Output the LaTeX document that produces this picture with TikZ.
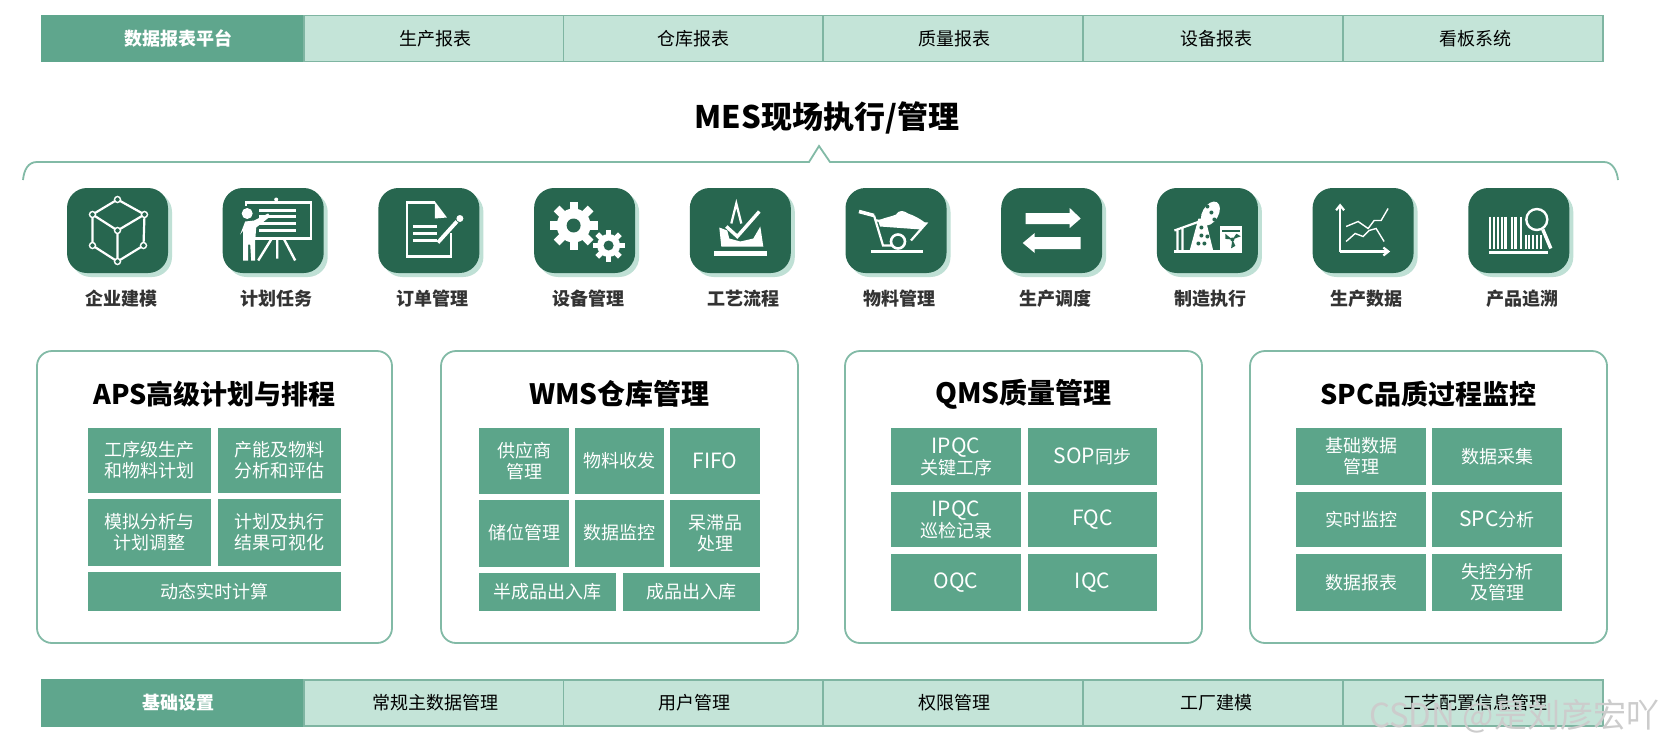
\documentclass[tikz,border=0pt]{standalone}
\usepackage{fontspec}
\setmainfont{Noto Sans CJK SC}
\usetikzlibrary{positioning,shadows,arrows.meta}
\definecolor{barhead}{HTML}{5FA68D}
\definecolor{barcell}{HTML}{C4E4D8}
\definecolor{barline}{HTML}{7FB5A2}
\definecolor{tilegreen}{HTML}{27664F}
\definecolor{tileshade}{HTML}{BFE0D5}
\definecolor{cellgreen}{HTML}{5CA58A}
\definecolor{panelline}{HTML}{82BAA6}
\newcommand\lat[1]{{\fontsize{21pt}{21pt}\selectfont #1}}
\tikzset{
  x=1pt,y=-1pt,
  headbox/.style={fill=barhead,draw=barhead,line width=1.5pt,text=white,font=\fontsize{18pt}{21pt}\selectfont\bfseries,minimum height=46pt,inner sep=0pt},
  barbox/.style={fill=barcell,draw=barline,line width=1.5pt,text=black,font=\fontsize{18pt}{21pt}\selectfont,minimum height=46pt,inner sep=0pt},
  tilebox/.style={fill=tilegreen,rounded corners=20pt,minimum width=101pt,minimum height=85pt,inner sep=0pt,
    drop shadow={shadow xshift=4pt,shadow yshift=-4pt,fill=tileshade,opacity=1}},
  tilelabel/.style={text=black!80,font=\fontsize{18pt}{21pt}\selectfont\bfseries,inner sep=0pt},
  panelbox/.style={draw=panelline,line width=1.8pt,rounded corners=15pt,fill=white,inner sep=0pt,minimum height=292pt,minimum width=356pt},
  paneltitle/.style={font=\fontsize{28pt}{30pt}\selectfont\bfseries,inner sep=0pt},
  cellbox/.style={fill=cellgreen,text=white,align=center,inner sep=0pt,font=\fontsize{18pt}{21pt}\selectfont},
  iconline/.style={draw=white,line width=2.2pt},
  iconthin/.style={draw=white,line width=1.4pt},
}
\begin{document}
\begin{tikzpicture}
  \useasboundingbox (0,0) rectangle (1661,745);
  \fill[white] (0,0) rectangle (1661,745);

  % report bar
  \node[headbox,minimum width=262pt] (tophead) at (173,38.5) {\hspace*{11pt}数据报表平台};
  \foreach \x/\dx/\name/\txt in {434/2/rprod/生产报表,693.5/0/rware/仓库报表,953/3/rqual/质量报表,1213/6/requip/设备报表,1473/4/rboard/看板系统}
    \node[barbox,minimum width=260pt] (\name) at (\x,38.5) {\hspace*{\dx pt}\txt};

  % title and brace
  \node[font=\fontsize{31pt}{33pt}\selectfont\bfseries,inner sep=0pt] (mestitle) at (827,118) {MES现场执行/管理};
  \draw[panelline,line width=1.8pt] (23,180) .. controls (24,170) and (28,162) .. (37,162)
    -- (809,162) -- (819,146) -- (830,162) -- (1604,162) .. controls (1612,162) and (1617,170) .. (1618,180);

  % icon tiles
  \foreach \i/\name/\txt in {0/model/企业建模,1/plan/计划任务,2/order/订单管理,3/equip/设备管理,4/flow/工艺流程,
      5/material/物料管理,6/dispatch/生产调度,7/exec/制造执行,8/pdata/生产数据,9/trace/产品追溯} {
    \node[tilebox] (\name) at ({117.5+155.7*\i},230.5) {};
    \node[tilelabel] (\name label) at ({121+155.7*\i},299) {\txt};
  }

  % cube
  \begin{scope}[shift={(model.center)}]
    \draw[iconline] (0,-31) -- (27,-16) -- (26,15) -- (0,31) -- (-25,15) -- (-25,-16) -- cycle;
    \draw[iconline] (-25,-16) -- (0,0) -- (27,-16) (0,0) -- (0,31);
    \foreach \p in {(0,-31),(27,-16),(26,15),(0,31),(-25,15),(-25,-16),(0,0)}
      \draw[iconthin,fill=tilegreen] \p circle (3);
  \end{scope}
  % presenter
  \begin{scope}[shift={(plan.center)}]
    \draw[iconline] (-27,-28) rectangle (38,8);
    \fill[white] (3,-31) circle (2);
    \foreach \y in {-20,-14,-7,0}
      \draw[iconline] (-14,\y) -- (23,\y);
    \fill[tilegreen] (-36,-25) rectangle (-18,32);
    \fill[white] (-26,-17) circle (5.5);
    \fill[white] (-33,4) -- (-28,-9) -- (-19,-10) -- (-5,-17) -- (-3,-14) -- (-17,-3) -- (-18,10) -- (-18,30) -- (-22,30) -- (-23,14) -- (-25,14) -- (-25,30) -- (-30,30) -- (-30,0) -- cycle;
    \draw[iconline,line width=2.4pt] (-2,9) -- (-15,30) (4,9) -- (4,28) (11,9) -- (22,30);
  \end{scope}
  % document and pen
  \begin{scope}[shift={(order.center)}]
    \draw[iconline,line width=2.6pt] (6,-28) -- (-22,-28) -- (-22,26) -- (22,26) -- (22,2);
    \fill[white] (6,-29) -- (18,-13) -- (6,-12) -- cycle;
    \foreach \y in {-4,3,10}
      \draw[iconline,line width=3pt] (-16,\y) -- (8,\y);
    \draw[white,line width=3.8pt] (9,12) -- (28,-9);
    \fill[white] (31,-12) circle (3.5);
  \end{scope}
  % gears
  \begin{scope}[shift={(equip.center)}]
    \foreach \cx/\cy/\ro/\ri/\rh in {-11/-5/24/17/7,24/15/16/11.5/5} {
      \fill[white] (\cx,\cy) circle (\ri);
      \foreach \a in {0,45,...,315}
        \fill[white,shift={(\cx,\cy)},rotate=\a] ({\ri-1},{-.17*\ro}) rectangle (\ro,{.17*\ro});
      \fill[tilegreen] (\cx,\cy) circle (\rh);
    }
  \end{scope}
  % plane with check mark
  \begin{scope}[shift={(flow.center)}]
    \fill[white] (-21,-3) -- (-13,0) -- (-11,8) -- (0,11) -- (13,8) -- (20,-4) -- (23,16) -- (-19,16) -- cycle;
    \fill[white] (-26,20) rectangle (27,25);
    \draw[iconline] (-9,-7) -- (-4,-27) -- (1,-7);
    \draw[white,line width=3.4pt] (-14,-4) -- (-3,6) -- (19,-19);
  \end{scope}
  % wheelbarrow
  \begin{scope}[shift={(material.center)}]
    \draw[white,line width=3.6pt] (-37,-19) -- (-22,-15);
    \draw[iconline] (-22,-15) -- (-13,15) -- (-4,15) (15,10) -- (30,-7) -- (-20,-10);
    \fill[white] (-18,-10) .. controls (-8,-14) and (-4,-14) .. (0,-16) .. controls (3,-21) and (8,-20) .. (12,-17) .. controls (18,-15) and (24,-12) .. (30,-7) -- (25,-1) -- (-16,-4) -- cycle;
    \draw[iconline,line width=2.6pt] (2,11) circle (7);
    \draw[iconline,line width=2.6pt] (-25,21) -- (27,21);
  \end{scope}
  % exchange arrows
  \begin{scope}[shift={(dispatch.center)}]
    \fill[white] (-26,-17.5) -- (18,-17.5) -- (18,-22.5) -- (29,-12) -- (18,-2.5) -- (18,-6.5) -- (-26,-6.5) -- cycle;
    \fill[white] (29,6.5) -- (-17,6.5) -- (-17,2.5) -- (-29,12.5) -- (-17,22.5) -- (-17,18.5) -- (29,18.5) -- cycle;
  \end{scope}
  % pump jack and barrel
  \begin{scope}[shift={(exec.center)}]
    \draw[iconline] (-33,21) -- (35,21);
    \fill[white] (-18,21) -- (-9,-12) -- (-2,-12) -- (6,21) -- cycle;
    \foreach \p in {(-6,-3),(-6,5),(-9,13),(-3,13),(0,6)}
      \fill[tilegreen] \p circle (2);
    \draw[iconline] (-33,0) -- (6,-14) (-30,0) -- (-30,21) (-25,-2) -- (-25,21);
    \fill[white,rotate around={-30:(3,-17)}] (3,-17) ellipse (8 and 13);
    \foreach \p in {(0,-24),(4,-18),(7,-11)}
      \fill[tilegreen] \p circle (2);
    \fill[white] (13,-5) rectangle (35,21);
    \fill[tilegreen] (15,-1) rectangle (33,1);
    \fill[tilegreen] (25,9) circle (2);
    \foreach \a in {90,210,330}
      \fill[tilegreen] (25,9) -- ++(\a-25:7) -- ++(\a+60:5) -- cycle;
  \end{scope}
  % chart
  \begin{scope}[shift={(pdata.center)}]
    \draw[iconline,-{Straight Barb[length=5pt,width=8pt]}] (-23,21) -- (-23,-27);
    \draw[iconline,-{Straight Barb[length=5pt,width=8pt]}] (-23,21) -- (27,21);
    \draw[iconthin] (-17,-4) -- (-5,-9) -- (5,-2) -- (11,-10) -- (18,-10) -- (25,-22);
    \draw[iconthin] (-17,11) -- (-8,3) -- (0,6) -- (6,0) -- (13,-2) -- (21,11);
  \end{scope}
  % barcode with lens
  \begin{scope}[shift={(trace.center)}]
    \foreach \x/\w in {-29/1.8,-25/1.8,-21/1.8,-17/1.8,-13/3.2,-7/1.8,-3/3.2,2/1.8}
      \draw[white,line width=\w pt] (\x,-14) -- (\x,18);
    \foreach \x in {7,10,14,18,22}
      \draw[white,line width=1.8pt] (\x,4) -- (\x,18);
    \draw[white,line width=2.4pt] (18,-11) circle (10.5);
    \draw[white,line width=3.4pt] (24,-1) -- (32,18);
    \draw[iconline] (-30,22) -- (29,22);
  \end{scope}

  % four panels
  \node[panelbox,minimum width=355pt] (aps) at (214.5,497) {};
  \node[panelbox,minimum width=357pt] (wms) at (619.5,497) {};
  \node[panelbox,minimum width=357pt] (qms) at (1023.5,497) {};
  \node[panelbox,minimum width=357pt] (spc) at (1428.5,497) {};
  \node[paneltitle,font=\fontsize{27pt}{30pt}\selectfont\bfseries] (apstitle) at (214.5,394) {APS高级计划与排程};
  \node[paneltitle] (wmstitle) at (619.5,394) {WMS仓库管理};
  \node[paneltitle] (qmstitle) at (1023.5,394) {QMS质量管理};
  \node[paneltitle,font=\fontsize{27pt}{30pt}\selectfont\bfseries] (spctitle) at (1428.5,394) {SPC品质过程监控};

  \foreach \xa/\ya/\xb/\yb/\name/\txt in {
      88/428/211/493/aps1/{工序级生产\\和物料计划},
      218/428/341/493/aps2/{产能及物料\\分析和评估},
      88/499/211/566/aps3/{模拟分析与\\计划调整},
      218/499/341/566/aps4/{计划及执行\\结果可视化},
      88/572/341/611/aps5/{动态实时计算},
      479/428/569/494/wms1/{供应商\\管理},
      575/428/664/494/wms2/{物料收发},
      670/428/760/494/wms3/{\lat{FIFO}},
      479/500/569/567/wms4/{\raisebox{3pt}{储位管理}},
      575/500/664/567/wms5/{\raisebox{3pt}{数据监控}},
      670/500/760/567/wms6/{呆滞品\\处理},
      479/573/616/611/wms7/{半成品出入库},
      623/573/760/611/wms8/{成品出入库},
      891/428/1021/485/qms1/{\lat{IPQC}\\关键工序},
      1028/428/1157/485/qms2/{\lat{SOP}同步},
      891/492/1021/547/qms3/{\lat{IPQC}\\巡检记录},
      1028/492/1157/547/qms4/{\lat{FQC}},
      891/554/1021/611/qms5/{\lat{OQC}},
      1028/554/1157/611/qms6/{\lat{IQC}},
      1296/428/1426/485/spc1/{基础数据\\管理},
      1432/428/1562/485/spc2/{数据采集},
      1296/492/1426/547/spc3/{\raisebox{2pt}{实时监控}},
      1432/492/1562/547/spc4/{\lat{SPC}分析},
      1296/554/1426/611/spc5/{数据报表},
      1432/554/1562/611/spc6/{失控分析\\及管理}}
    \node[cellbox,minimum width={(\xb-\xa)*1pt},minimum height={(\yb-\ya)*1pt}] (\name) at ({(\xa+\xb)/2},{(\ya+\yb)/2}) {\txt};

  % base bar
  \node[headbox,minimum width=262pt] (basehead) at (173,703) {\hspace*{11pt}基础设置};
  \foreach \x/\dx/\name/\txt in {434/2/bmain/常规主数据管理,693.5/2/buser/用户管理,953/2/bauth/权限管理,1213/6/bplant/工厂建模,1473/4/bconf/工艺配置信息管理}
    \node[barbox,minimum width=260pt] (\name) at (\x,703) {\hspace*{\dx pt}\txt};

  \node[text=gray!40,font=\fontsize{33pt}{35pt}\selectfont,inner sep=0pt] (mark) at (1514,716) {CSDN @是刘彦宏吖};
\end{tikzpicture}
\end{document}
